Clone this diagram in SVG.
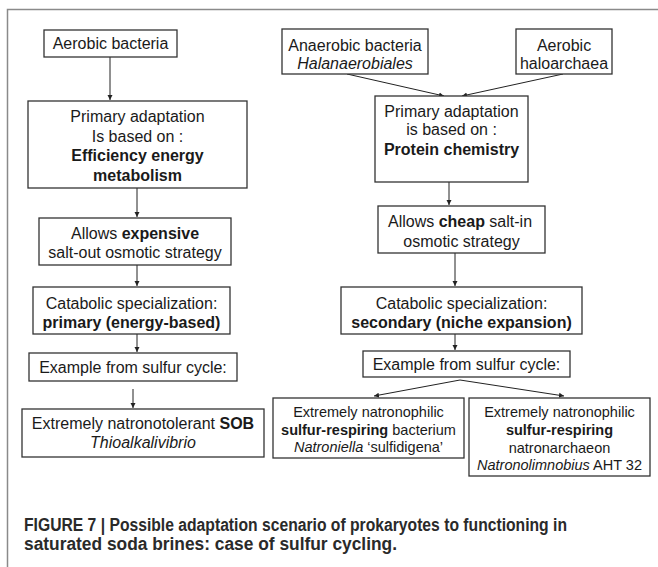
<svg xmlns="http://www.w3.org/2000/svg" width="658" height="567" viewBox="0 0 658 567">
<defs>
<marker id="ah" markerWidth="6" markerHeight="6" refX="5" refY="3" orient="auto" markerUnits="userSpaceOnUse">
<path d="M0,0.5 L5,3 L0,5.5 Z" fill="#222"/>
</marker>
<style>
.box{fill:#fff;stroke:#333;stroke-width:1.3}
.t{font-family:"Liberation Sans",Arial,sans-serif;font-size:16px;fill:#1a1a1a;text-anchor:middle}
.s{font-size:14.5px}
.b{font-weight:bold}
.i{font-style:italic}
.c{stroke:#222;stroke-width:1;fill:none;marker-end:url(#ah)}
.cap{font-family:"Liberation Sans",Arial,sans-serif;font-size:18px;font-weight:bold;fill:#2a2a2a}
</style>
</defs>
<rect width="658" height="567" fill="#fff"/>
<path d="M7.5,567 V9.5 H658" fill="none" stroke="#8a8a8a" stroke-width="1.5"/>
<g id="connectors">
<line class="c" x1="110" y1="57" x2="110" y2="100"/>
<line class="c" x1="137" y1="188" x2="137" y2="217"/>
<line class="c" x1="137" y1="265" x2="137" y2="286"/>
<line class="c" x1="137" y1="334" x2="137" y2="352"/>
<line class="c" x1="133" y1="389" x2="133" y2="408"/>
<line class="c" x1="347" y1="74" x2="444" y2="96"/>
<line class="c" x1="563" y1="74" x2="462" y2="96"/>
<line class="c" x1="449" y1="182" x2="449" y2="205"/>
<line class="c" x1="455" y1="253" x2="455" y2="286"/>
<line class="c" x1="455" y1="334" x2="455" y2="350"/>
<line class="c" x1="460" y1="380" x2="374" y2="396"/>
<line class="c" x1="460" y1="380" x2="564" y2="396"/>
</g>
<g id="n1"><rect class="box" x="44" y="30" width="133" height="27"/><text class="t" x="110.5" y="49">Aerobic bacteria</text></g>
<g id="n2"><rect class="box" x="28" y="101" width="219" height="87"/>
<text class="t" x="137.5" y="122">Primary adaptation</text>
<text class="t" x="137.5" y="141.5">Is based on :</text>
<text class="t b" x="137.5" y="161">Efficiency energy</text>
<text class="t b" x="137.5" y="180.5">metabolism</text></g>
<g id="n3"><rect class="box" x="39" y="218" width="192" height="47"/>
<text class="t" x="135" y="239">Allows <tspan class="b">expensive</tspan></text>
<text class="t" x="135" y="258">salt-out osmotic strategy</text></g>
<g id="n4"><rect class="box" x="33" y="287" width="197" height="47"/>
<text class="t" x="131.5" y="309">Catabolic specialization:</text>
<text class="t b" x="131.5" y="328">primary (energy-based)</text></g>
<g id="n5"><rect class="box" x="29" y="353" width="208" height="28"/>
<text class="t" x="133" y="373">Example from sulfur cycle:</text></g>
<g id="n6"><rect class="box" x="22" y="409" width="242" height="48"/>
<text class="t" x="143" y="428.5">Extremely natronotolerant <tspan class="b">SOB</tspan></text>
<text class="t i" x="143" y="447.5">Thioalkalivibrio</text></g>
<g id="n7"><rect class="box" x="282" y="29" width="146" height="45"/>
<text class="t" x="355" y="51">Anaerobic bacteria</text>
<text class="t i" x="355" y="69">Halanaerobiales</text></g>
<g id="n8"><rect class="box" x="516" y="29" width="96" height="45"/>
<text class="t" x="564" y="51">Aerobic</text>
<text class="t" x="564" y="69">haloarchaea</text></g>
<g id="n9"><rect class="box" x="375" y="96" width="153" height="86"/>
<text class="t" x="451.5" y="116.5">Primary adaptation</text>
<text class="t" x="451.5" y="135">is based on :</text>
<text class="t b" x="451.5" y="155">Protein chemistry</text></g>
<g id="n10"><rect class="box" x="378" y="206" width="167" height="47"/>
<text class="t" x="460" y="227">Allows <tspan class="b">cheap</tspan> salt-in</text>
<text class="t" x="461.5" y="246.5">osmotic strategy</text></g>
<g id="n11"><rect class="box" x="341" y="287" width="241" height="47"/>
<text class="t" x="461.5" y="309">Catabolic specialization:</text>
<text class="t b" x="461.5" y="328">secondary (niche expansion)</text></g>
<g id="n12"><rect class="box" x="363" y="351" width="207" height="26"/>
<text class="t" x="466.5" y="370">Example from sulfur cycle:</text></g>
<g id="n13"><rect class="box" x="273" y="398" width="191" height="60"/>
<text class="t s" x="368.5" y="417">Extremely natronophilic</text>
<text class="t s" x="368.5" y="434.5"><tspan class="b">sulfur-respiring</tspan> bacterium</text>
<text class="t s" x="368.5" y="452"><tspan class="i">Natroniella</tspan> ‘sulfidigena’</text></g>
<g id="n14"><rect class="box" x="469" y="398" width="181" height="78"/>
<text class="t s" x="559.5" y="417">Extremely natronophilic</text>
<text class="t s b" x="559.5" y="435">sulfur-respiring</text>
<text class="t s" x="559.5" y="452.5">natronarchaeon</text>
<text class="t s" x="559.5" y="470"><tspan class="i">Natronolimnobius</tspan> AHT 32</text></g>
<text class="cap" x="24" y="531" textLength="543" lengthAdjust="spacingAndGlyphs">FIGURE 7 | Possible adaptation scenario of prokaryotes to functioning in</text>
<text class="cap" x="24" y="550" textLength="373" lengthAdjust="spacingAndGlyphs">saturated soda brines: case of sulfur cycling.</text>
</svg>
